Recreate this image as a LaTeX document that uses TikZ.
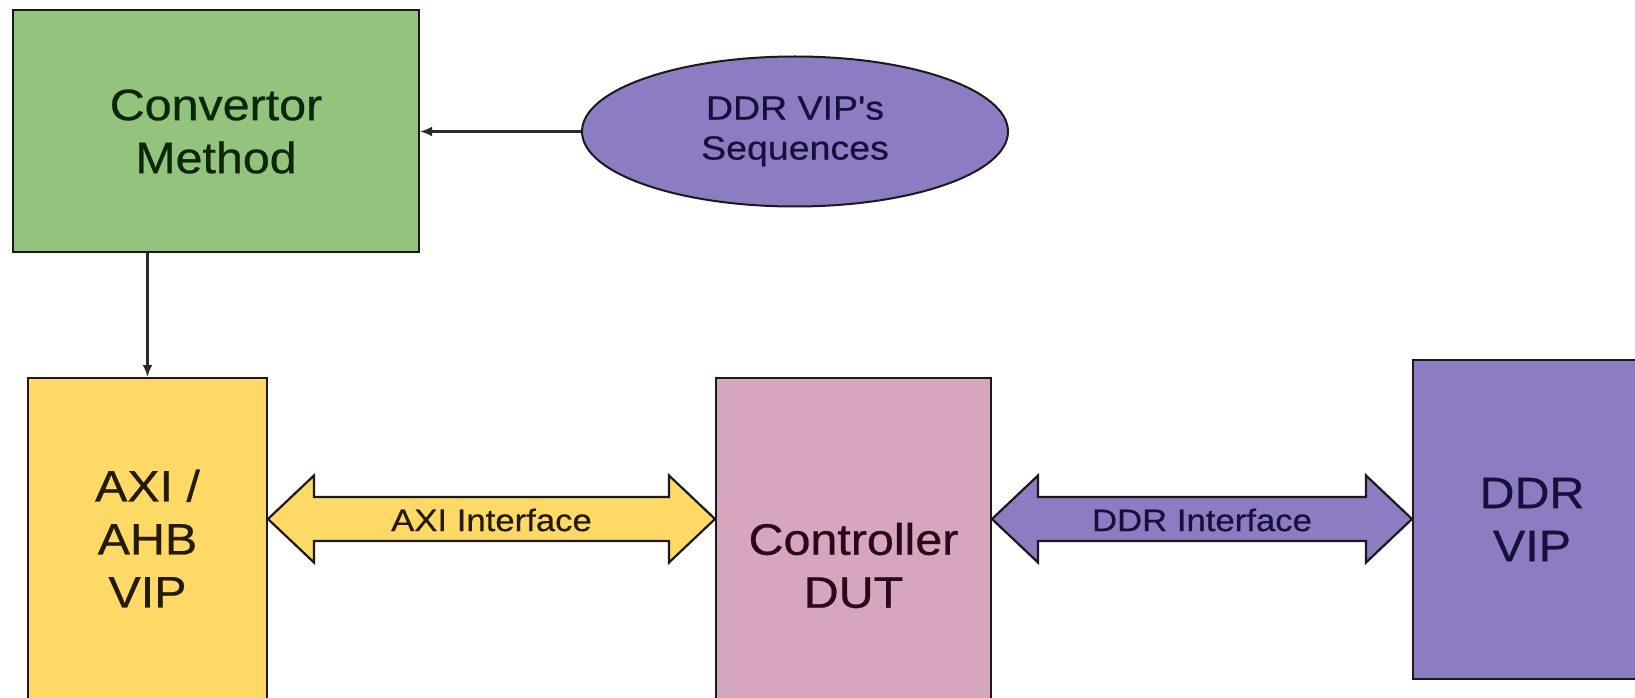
\documentclass[tikz,border=0pt]{standalone}
\usepackage{fontspec}
\setmainfont{Liberation Sans}
\newfontfamily\bigf[FakeStretch=1.1,FakeBold=0.6]{Liberation Sans}
\newfontfamily\smf[FakeStretch=1.12,FakeBold=0.5]{Liberation Sans}
\usetikzlibrary{arrows.meta,shapes.geometric,calc}
\definecolor{cgreen}{HTML}{93C47D}
\definecolor{cyellow}{HTML}{FFD966}
\definecolor{cpink}{HTML}{D5A6BD}
\definecolor{cpurple}{HTML}{8E7CC3}
\definecolor{tgreen}{HTML}{0C2606}
\definecolor{tbrown}{HTML}{241A00}
\definecolor{tmaroon}{HTML}{2C0619}
\definecolor{tnavy}{HTML}{170F3C}
\definecolor{bord}{HTML}{1A1A1A}
\definecolor{conn}{HTML}{2A2A2A}
\tikzset{
  box/.style={draw=bord, line width=2pt, inner sep=0pt, align=center},
  bigtext/.style={font=\bigf\fontsize{44}{53}\selectfont},
  seqtext/.style={font=\smf\fontsize{33.5}{40}\selectfont},
  labtext/.style={font=\smf\fontsize{31}{31}\selectfont, inner sep=0pt},
  conarrow/.style={draw=conn, line width=2.4pt, -{Latex[length=12pt,width=10pt]}},
  fatarrow/.style={draw=bord, line width=2.2pt, line join=miter},
}
\begin{document}
\begin{tikzpicture}[x=1pt,y=1pt]
\useasboundingbox (0,0) rectangle (1635,697);
\clip (0,0) rectangle (1635,697);
\fill[white] (0,0) rectangle (1635,697);
% boxes
\node[box, fill=cgreen, minimum width=406pt, minimum height=242pt, bigtext, text=tgreen] (conv) at (216,565.5) {Convertor\\Method};
\node[box, ellipse, fill=cpurple, minimum width=426pt, minimum height=150pt, seqtext, text=tnavy] (seq) at (795,565.5) {DDR VIP's\\Sequences};
\node[box, fill=cyellow, minimum width=239pt, minimum height=321pt, bigtext, text=tbrown] (axi) at (147.5,158.5) {AXI /\\AHB\\VIP};
\node[box, fill=cpink, minimum width=275pt, minimum height=375pt, bigtext, text=tmaroon] (ctrl) at (853.5,131.5) {Controller\\DUT};
\node[box, fill=cpurple, minimum width=238pt, minimum height=319pt, bigtext, text=tnavy] (ddr) at (1532,177.5) {DDR\\VIP};
% thin connectors
\draw[conarrow] (seq.west) -- (conv.east);
\draw[conarrow] (conv.south -| axi.north) -- (axi.north);
% fat double arrows
\draw[fatarrow, fill=cyellow] let \p1=(axi.east), \p2=(ctrl.west) in
  (\x1,178pt) -- (\x1+46pt,221.5pt) -- (\x1+46pt,200pt) -- (\x2-46pt,200pt) -- (\x2-46pt,221.5pt) -- (\x2,178pt)
  -- (\x2-46pt,134.5pt) -- (\x2-46pt,156pt) -- (\x1+46pt,156pt) -- (\x1+46pt,134.5pt) -- cycle;
\path let \p1=(axi.east), \p2=(ctrl.west) in
  node[labtext, text=tbrown] (axilab) at ({(\x1+\x2)/2},177pt) {AXI Interface};
\draw[fatarrow, fill=cpurple] let \p1=(ctrl.east), \p2=(ddr.west) in
  (\x1,178pt) -- (\x1+46pt,221.5pt) -- (\x1+46pt,200pt) -- (\x2-46pt,200pt) -- (\x2-46pt,221.5pt) -- (\x2,178pt)
  -- (\x2-46pt,134.5pt) -- (\x2-46pt,156pt) -- (\x1+46pt,156pt) -- (\x1+46pt,134.5pt) -- cycle;
\path let \p1=(ctrl.east), \p2=(ddr.west) in
  node[labtext, text=tnavy] (ddrlab) at ({(\x1+\x2)/2},177pt) {DDR Interface};
\end{tikzpicture}
\end{document}
